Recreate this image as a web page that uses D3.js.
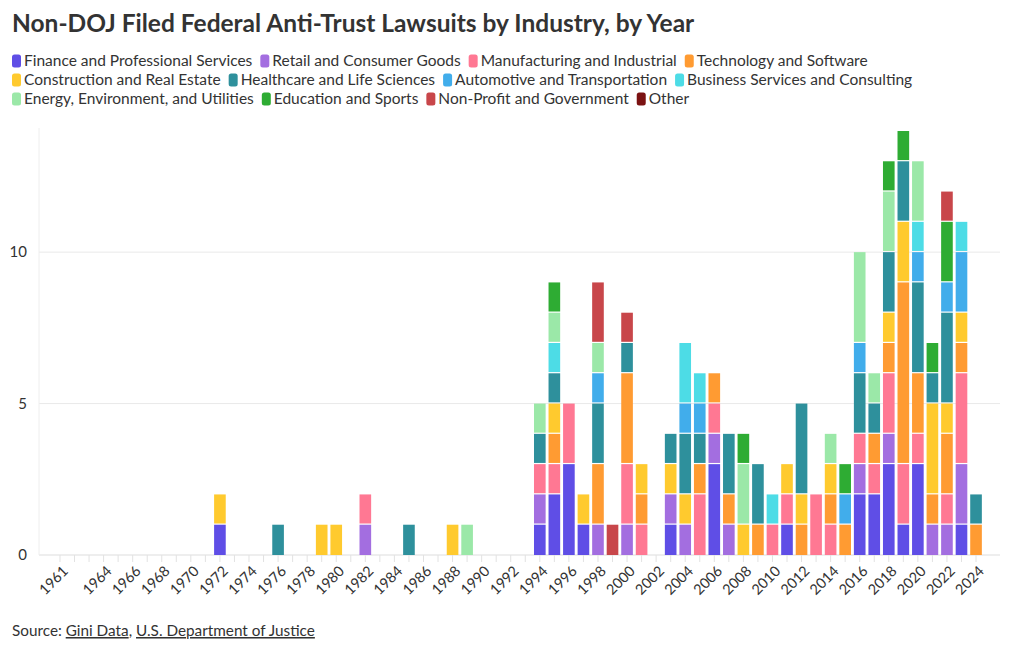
<!DOCTYPE html>
<html><head><meta charset="utf-8">
<script src="https://cdn.jsdelivr.net/npm/d3@7"></script>
<style>body{margin:0;background:#fff;} svg{display:block;font-family:Lato, "Noto Sans", sans-serif;}</style>
</head><body><svg id="chart" width="1020" height="650"></svg>
<script>
// ---- Data ----
const firstYear = 1961, lastYear = 2024;
const tickLabels = [1961,1964,1966,1968,1970,1972,1974,1976,1978,1980,1982,1984,1986,1988,1990,1992,1994,1996,1998,2000,2002,2004,2006,2008,2010,2012,2014,2016,2018,2020,2022,2024];
const dataYears = [1972,1976,1979,1980,1982,1985,1988,1989,
  1994,1995,1996,1997,1998,1999,2000,2001,
  2003,2004,2005,2006,2007,2008,2009,2010,2011,2012,2013,2014,2015,2016,2017,2018,2019,2020,2021,2022,2023,2024];
const categories = ["Finance and Professional Services","Retail and Consumer Goods","Manufacturing and Industrial","Technology and Software","Construction and Real Estate","Healthcare and Life Sciences","Automotive and Transportation","Business Services and Consulting","Energy, Environment, and Utilities","Education and Sports","Non-Profit and Government","Other"];
const colors = ["#5f4ee6","#a36ee0","#ff7893","#ff9b32","#ffca2e","#2e909c","#41adeb","#4ddce6","#9be8a8","#2eac33","#c8464a","#7b1212"];
const finance      = [1,0,0,0,0,0,0,0, 1,2,3,1,0,0,0,0, 1,0,0,3,0,0,0,0,1,0,0,0,0,2,2,3,1,3,0,0,1,0];
const retail       = [0,0,0,0,1,0,0,0, 1,0,0,0,1,0,1,0, 1,1,0,1,1,0,0,0,0,0,0,0,0,1,0,1,0,0,1,1,2,0];
const manufacturing= [0,0,0,0,1,0,0,0, 1,1,2,0,0,0,2,1, 0,0,2,1,0,0,0,1,1,0,2,1,0,1,1,2,2,1,0,1,3,0];
const technology   = [0,0,0,0,0,0,0,0, 0,1,0,0,2,0,3,1, 0,0,1,1,1,0,1,0,0,1,0,1,1,0,1,1,6,2,1,2,1,1];
const construction = [1,0,1,1,0,0,1,0, 0,1,0,1,0,0,0,1, 1,1,0,0,0,1,0,0,1,1,0,1,0,0,0,1,2,0,3,1,1,0];
const healthcare   = [0,1,0,0,0,1,0,0, 1,1,0,0,2,0,1,0, 1,2,1,0,2,0,2,0,0,3,0,0,0,2,1,2,2,3,1,3,0,1];
const automotive   = [0,0,0,0,0,0,0,0, 0,0,0,0,1,0,0,0, 0,1,1,0,0,0,0,0,0,0,0,0,1,1,0,0,0,1,0,1,2,0];
const business     = [0,0,0,0,0,0,0,0, 0,1,0,0,0,0,0,0, 0,2,1,0,0,0,0,1,0,0,0,0,0,0,0,0,0,1,0,0,1,0];
const energy       = [0,0,0,0,0,0,0,1, 1,1,0,0,1,0,0,0, 0,0,0,0,0,2,0,0,0,0,0,1,0,3,1,2,0,2,0,0,0,0];
const education    = [0,0,0,0,0,0,0,0, 0,1,0,0,0,0,0,0, 0,0,0,0,0,1,0,0,0,0,0,0,1,0,0,1,1,0,1,2,0,0];
const nonprofit    = [0,0,0,0,0,0,0,0, 0,0,0,0,2,1,1,0, 0,0,0,0,0,0,0,0,0,0,0,0,0,0,0,0,0,0,0,1,0,0];
const other        = [0,0,0,0,0,0,0,0, 0,0,0,0,0,0,0,0, 0,0,0,0,0,0,0,0,0,0,0,0,0,0,0,0,0,0,0,0,0,0];
const seriesValues = [finance,retail,manufacturing,technology,construction,healthcare,automotive,business,energy,education,nonprofit,other];
const yTicks = [0,5,10];

// ---- Build table ----
const allYears = d3.range(firstYear, lastYear + 1);
const rows = allYears.map(yr => {
  const r = {year: yr};
  const i = dataYears.indexOf(yr);
  categories.forEach((c, k) => { r[c] = i >= 0 ? seriesValues[k][i] : 0; });
  return r;
});
const stacked = d3.stack().keys(categories)(rows);

const svg = d3.select("#chart");
const textCol = "#333333";

// Title
svg.append("text").attr("x", 12).attr("y", 32)
  .attr("font-size", 24.5).attr("font-weight", 700).attr("fill", textCol)
  .text("Non-DOJ Filed Federal Anti-Trust Lawsuits by Industry, by Year");

// Legend (flow layout)
const legend = svg.append("g");
let lx = 12, ly = 61; const maxX = 1005;
categories.forEach((c, k) => {
  const g = legend.append("g");
  g.append("rect").attr("width", 9).attr("height", 13).attr("rx", 2.5).attr("y", -6.5).attr("fill", colors[k]);
  const t = g.append("text").attr("x", 12).attr("dy", "0.35em").attr("font-size", 15.5).attr("fill", textCol).text(c);
  const w = 12 + t.node().getComputedTextLength();
  if (lx + w > maxX) { lx = 12; ly += 19; }
  g.attr("transform", `translate(${lx},${ly})`);
  lx += w + 8;
});

// Scales
const x = d3.scaleBand().domain(allYears).range([52.7, 983.3]).paddingInner(0.2).paddingOuter(0.1);
const y = d3.scaleLinear().domain([0, 14]).range([555, 131]);

// Grid
const grid = svg.append("g");
grid.selectAll("line.h").data(yTicks).join("line")
  .attr("x1", 39).attr("x2", 1000).attr("y1", d => y(d)).attr("y2", d => y(d))
  .attr("stroke", d => d === 0 ? "#dddddd" : "#e9e9e9").attr("stroke-width", 1);
grid.append("line").attr("x1", 39).attr("x2", 39).attr("y1", 128).attr("y2", y(0)).attr("stroke", "#eeeeee");
grid.selectAll("line.t").data(allYears).join("line")
  .attr("x1", d => x(d) + x.bandwidth()/2).attr("x2", d => x(d) + x.bandwidth()/2)
  .attr("y1", y(0)).attr("y2", y(0) + 7).attr("stroke", "#e2e2e2");

// Y labels
svg.append("g").selectAll("text").data(yTicks).join("text")
  .attr("x", 27).attr("y", d => y(d)).attr("dy", "0.35em").attr("text-anchor", "end")
  .attr("font-size", 15).attr("fill", textCol).text(d => d);

// Bars
const gap = 1.2;
svg.append("g").selectAll("g").data(stacked).join("g")
  .attr("fill", (d, i) => colors[i])
  .selectAll("rect").data(d => d.filter(s => s[1] - s[0] > 0)).join("rect")
  .attr("x", d => x(d.data.year)).attr("width", x.bandwidth())
  .attr("y", d => y(d[1]))
  .attr("height", d => y(d[0]) - y(d[1]) - (d[0] > 0 ? gap : 0));

// X labels
svg.append("g").selectAll("text").data(tickLabels).join("text")
  .attr("transform", d => `translate(${x(d) + x.bandwidth()/2 + 9},${y(0) + 17}) rotate(-45)`)
  .attr("text-anchor", "end").attr("font-size", 14.5).attr("fill", textCol).text(d => d);

// Source
const src = svg.append("text").attr("x", 12).attr("y", 636).attr("font-size", 15.3).attr("fill", textCol);
src.append("tspan").text("Source: ");
src.append("tspan").attr("text-decoration", "underline").text("Gini Data");
src.append("tspan").text(", ");
src.append("tspan").attr("text-decoration", "underline").text("U.S. Department of Justice");
</script></body></html>
